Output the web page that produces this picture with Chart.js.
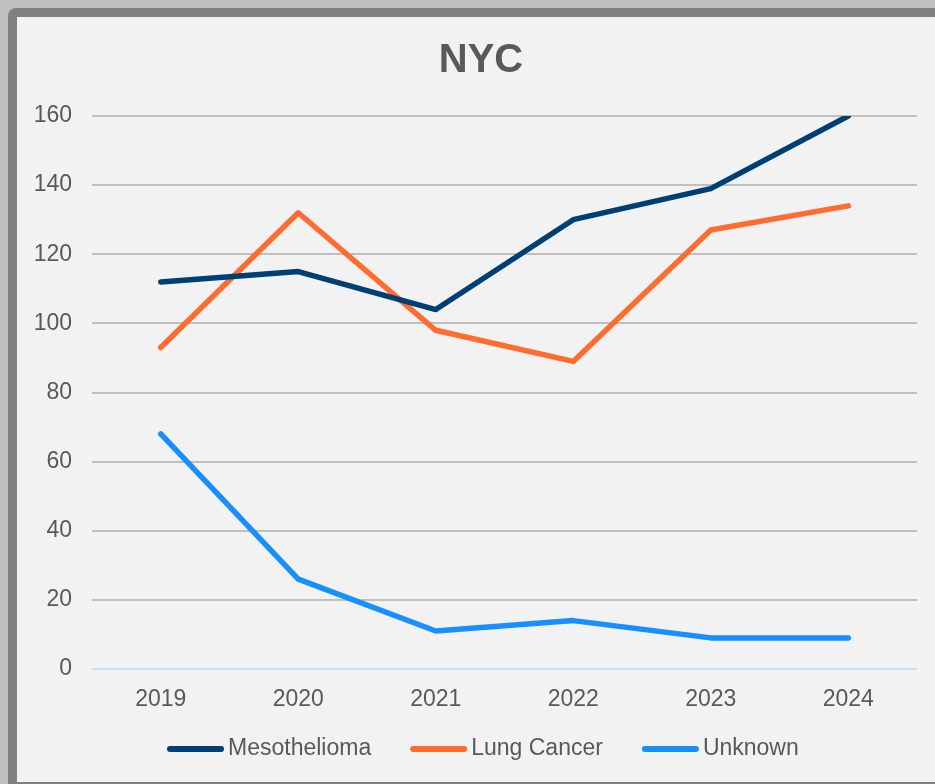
<!DOCTYPE html>
<html>
<head>
<meta charset="utf-8">
<script src="https://cdn.jsdelivr.net/npm/chart.js@4.4.1/dist/chart.umd.min.js"></script>
<style>
    html, body {
        margin: 0;
        padding: 0;
        width: 935px;
        height: 784px;
        overflow: hidden;
        background: #c0c0c0;
    }
    .frame {
        position: absolute;
        left: 8px;
        top: 8px;
        right: 0;
        bottom: 0;
        background: #808080;
        border-top-left-radius: 8px;
    }
    .inner {
        position: absolute;
        left: 17px;
        top: 17px;
        width: 918px;
        height: 765px;
        background: #f2f2f2;
    }
</style>
</head>
<body>
<div class="frame"></div>
<div class="inner">
    <canvas id="chart-nyc" width="918" height="765"></canvas>
</div>
<script>
const years = ["2019", "2020", "2021", "2022", "2023", "2024"];
const mesothelioma = [112, 115, 104, 130, 139, 160];
const lungCancer = [93, 132, 98, 89, 127, 134];
const unknown = [68, 26, 11, 14, 9, 9];
const yTicks = [0, 20, 40, 60, 80, 100, 120, 140, 160];

const FONT = "'Liberation Sans', Arial, sans-serif";
const TEXT = "#595959";

// title and legend drawn by hand so they sit where the original has them
const titleAndLegend = {
    id: "titleAndLegend",
    afterDraw: (chart) => {
        const ctx = chart.ctx;
        ctx.save();
        ctx.fillStyle = TEXT;
        ctx.font = "bold 40px " + FONT;
        ctx.textAlign = "center";
        ctx.textBaseline = "middle";
        ctx.fillText("NYC", 464, 44);

        ctx.font = "23px " + FONT;
        ctx.textAlign = "left";
        let x = 150;
        const y = 732;
        chart.data.datasets.forEach((ds) => {
            ctx.strokeStyle = ds.borderColor;
            ctx.lineWidth = 6;
            ctx.lineCap = "round";
            ctx.beginPath();
            ctx.moveTo(x + 3, y);
            ctx.lineTo(x + 54, y);
            ctx.stroke();
            ctx.fillStyle = TEXT;
            ctx.fillText(ds.label, x + 61, y);
            x += 61 + ctx.measureText(ds.label).width + 39;
        });
        ctx.restore();
    },
};

const makeSet = (label, color, data) => ({
    label: label,
    borderColor: color,
    backgroundColor: color,
    borderWidth: 5.5,
    borderCapStyle: "round",
    borderJoinStyle: "round",
    pointRadius: 0,
    tension: 0,
    data: data,
});

const chartNyc = new Chart(document.getElementById("chart-nyc"), {
    type: "line",
    data: {
        labels: years,
        datasets: [
            makeSet("Mesothelioma", "#003f74", mesothelioma),
            makeSet("Lung Cancer", "#ff6c2f", lungCancer),
            makeSet("Unknown", "#178fff", unknown),
        ],
    },
    options: {
        responsive: false,
        animation: false,
        layout: {
            padding: { top: 99, right: 18, bottom: 0, left: 0 },
        },
        plugins: {
            legend: { display: false },
            title: { display: false },
            tooltip: { enabled: false },
        },
        scales: {
            x: {
                offset: true,
                afterFit: (scale) => {
                    scale.height = 113;
                },
                grid: { display: false },
                border: { display: false },
                ticks: {
                    color: TEXT,
                    font: { family: FONT, size: 23 },
                    padding: 9,
                },
            },
            y: {
                min: 0,
                max: 160,
                afterFit: (scale) => {
                    scale.width = 75;
                },
                afterBuildTicks: (scale) => {
                    scale.ticks = yTicks.map((v) => ({ value: v }));
                },
                grid: {
                    drawTicks: false,
                    lineWidth: 2,
                    color: (c) => (c.tick && c.tick.value === 0 ? "#c3e2f8" : "#bfbfbf"),
                },
                border: { display: false },
                ticks: {
                    color: TEXT,
                    font: { family: FONT, size: 23 },
                    padding: 20,
                },
            },
        },
    },
    plugins: [titleAndLegend],
});
</script>
</body>
</html>
